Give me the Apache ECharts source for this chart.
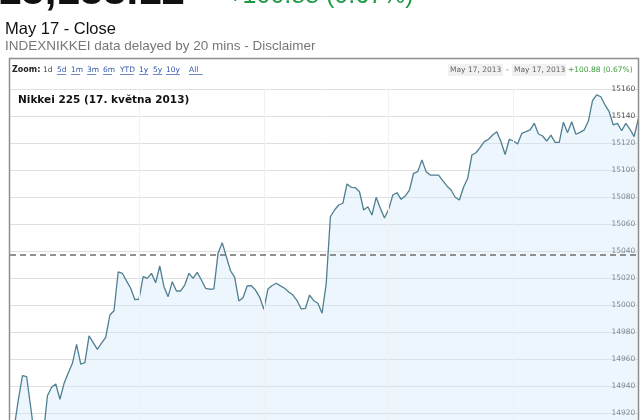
<!DOCTYPE html>
<html><head><meta charset="utf-8">
<script src="https://cdn.jsdelivr.net/npm/echarts@6/dist/echarts.min.js"></script>
<style>html,body{margin:0;padding:0;background:#fff;overflow:hidden}#c{width:640px;height:450px}</style>
</head><body><div id="c"></div>
<script>
// Nikkei 225 intraday, 17 May 2013, 2-minute points
const prices = [
14909.1, 14929.9, 14947.9, 14947.1, 14923.9, 14900.2, 14896.5, 14903.9, 14933.0, 14939.3,
14941.7, 14930.4, 14942.2, 14949.9, 14957.0, 14971.1, 14956.5, 14957.5, 14977.3, 14972.4,
14967.4, 14971.9, 14976.3, 14992.8, 14996.0, 15024.7, 15023.7, 15018.1, 15012.6, 15004.3,
15004.4, 15021.2, 15020.0, 15023.7, 15016.7, 15029.1, 15013.8, 15006.4, 15017.5, 15010.6,
15010.6, 15015.0, 15023.7, 15020.0, 15024.4, 15018.7, 15012.6, 15011.9, 15012.1, 15038.5,
15046.4, 15036.0, 15025.6, 15020.7, 15003.2, 15005.6, 15014.3, 15014.5, 15011.3, 15006.1,
14997.0, 15012.1, 15014.7, 15016.3, 15014.4, 15012.6, 15009.9, 15007.6, 15003.4, 14997.3,
14997.8, 15007.6, 15003.4, 15001.5, 14994.1, 15016.3, 15065.6, 15070.6, 15074.3, 15075.6,
15089.9, 15087.4, 15087.1, 15084.1, 15070.6, 15073.0, 15066.9, 15080.0, 15071.9, 15064.7,
15071.1, 15081.7, 15083.4, 15078.5, 15081.0, 15085.4, 15097.8, 15099.0, 15107.6, 15099.0,
15096.5, 15096.5, 15096.5, 15092.3, 15088.4, 15085.4, 15080.0, 15078.0, 15087.4, 15094.1,
15111.3, 15113.0, 15117.0, 15121.2, 15123.0, 15126.1, 15128.6, 15121.2, 15111.7, 15123.0,
15121.7, 15119.5, 15127.4, 15128.6, 15129.9, 15134.8, 15126.9, 15125.4, 15121.7, 15126.1,
15120.7, 15120.7, 15135.6, 15127.9, 15136.0, 15126.7, 15128.1, 15129.9, 15136.5, 15151.6,
15155.8, 15154.5, 15148.4, 15143.4, 15133.6, 15134.8, 15129.3, 15134.8, 15130.4, 15124.9,
15138.12
];
const prevClose = 15037.24;
const yMin = 14900, yMax = 15160, yStep = 20;
const hourMarks = [30, 60, 90, 120];
const lastPrice = '15,138.12';
const changeText = '+100.88 (0.67%)';
const subTitle = 'May 17 - Close';
const sourceText = 'INDEXNIKKEI data delayed by 20 mins - Disclaimer';
const chartTitle = 'Nikkei 225 (17. května 2013)';
const zoomLinks = [['1d',43],['5d',57],['1m',71],['3m',87],['6m',103],['YTD',120],['1y',139],['5y',153],['10y',166],['All',189]];
const rangeFrom = 'May 17, 2013', rangeTo = 'May 17, 2013';

const chart = echarts.init(document.getElementById('c'), null, {renderer:'canvas'});
const F = '"DejaVu Sans", Verdana, sans-serif';
const A = '"Liberation Sans", Arial, sans-serif';

const graphics = [
  {type:'text', z:100, style:{text:lastPrice, x:-2, y:-7.5, font:'bold 42px '+A, fill:'#111', verticalAlign:'middle'}},
  {type:'text', z:100, style:{text:changeText, x:228, y:-4, font:'25px '+A, fill:'#1e9a46', verticalAlign:'middle'}},
  {type:'text', z:100, style:{text:subTitle, x:5, y:29.5, font:'16.5px '+A, fill:'#111', verticalAlign:'middle'}},
  {type:'text', z:100, style:{text:sourceText, x:5, y:46.5, font:'13.5px '+A, fill:'#777', verticalAlign:'middle'}},
  {type:'rect', z:100, shape:{x:9.5, y:58.5, width:629, height:420}, style:{fill:'none', stroke:'#8e8e8e', lineWidth:1.5}},
  {type:'text', z:100, style:{text:'Zoom:', x:12, y:70, font:'bold 8px '+F, fill:'#222', verticalAlign:'middle'}},
  {type:'text', z:100, style:{text:chartTitle, x:18, y:100, font:'bold 10.5px '+F, fill:'#111', verticalAlign:'middle'}},
  {type:'rect', z:100, shape:{x:448, y:64, width:55, height:12}, style:{fill:'#f1f1f1'}},
  {type:'rect', z:100, shape:{x:512, y:64, width:54, height:12}, style:{fill:'#f1f1f1'}},
  {type:'text', z:101, style:{text:rangeFrom, x:450, y:70, font:'7.5px '+F, fill:'#666', verticalAlign:'middle'}},
  {type:'text', z:101, style:{text:'-', x:506, y:70, font:'7.5px '+F, fill:'#666', verticalAlign:'middle'}},
  {type:'text', z:101, style:{text:rangeTo, x:514, y:70, font:'7.5px '+F, fill:'#666', verticalAlign:'middle'}},
  {type:'text', z:101, style:{text:changeText, x:568, y:70, font:'7.5px '+F, fill:'#3f9a3f', verticalAlign:'middle'}}
];
zoomLinks.forEach(([t, x], k) => {
  const sel = k === 0;
  graphics.push({type:'text', z:100, style:{text:t, x:x, y:70, font:'7.5px '+F, fill: sel ? '#444' : '#3355aa', verticalAlign:'middle'}});
  if (!sel) {
    const w = t.length * 4.6;
    graphics.push({type:'line', z:100, shape:{x1:x, y1:74.5, x2:x + w, y2:74.5}, style:{stroke:'#3355aa', lineWidth:0.7}});
  }
});

chart.setOption({
  animation:false,
  backgroundColor:'#fff',
  graphic: graphics,
  grid:{left:10, right:1.7, top:89.3, bottom:9.7, containLabel:false},
  xAxis:{type:'value', min:-1, max:prices.length - 1, show:false, splitLine:{show:false}},
  yAxis:{type:'value', position:'right', min:yMin, max:yMax, interval:yStep,
    axisLine:{show:false}, axisTick:{show:false},
    axisLabel:{inside:true, margin:3, fontSize:7.5, fontFamily:'DejaVu Sans', color:'#555', padding:[0,0,6,0],
      formatter: v => String(v)},
    splitLine:{lineStyle:{color:'#e0e0e0', width:1}}},
  series:[
    {type:'line', z:1, data:[], markLine:{silent:true, symbol:['none','none'], label:{show:false},
      lineStyle:{color:'#f1f1f1', type:'solid', width:1},
      data: hourMarks.map(h => ({xAxis:h}))}},
    {type:'line', z:2, data: prices.map((v, i) => [i, v]), showSymbol:false, smooth:false,
      lineStyle:{color:'#4f7f90', width:1.3},
      areaStyle:{color:'rgba(200,230,247,0.5)'},
      markLine:{silent:true, symbol:['none','none'], label:{show:false},
        lineStyle:{color:'#6e6e6e', type:[6,4], width:1.5},
        data:[{yAxis:prevClose}]}}
  ]
});
</script></body></html>
